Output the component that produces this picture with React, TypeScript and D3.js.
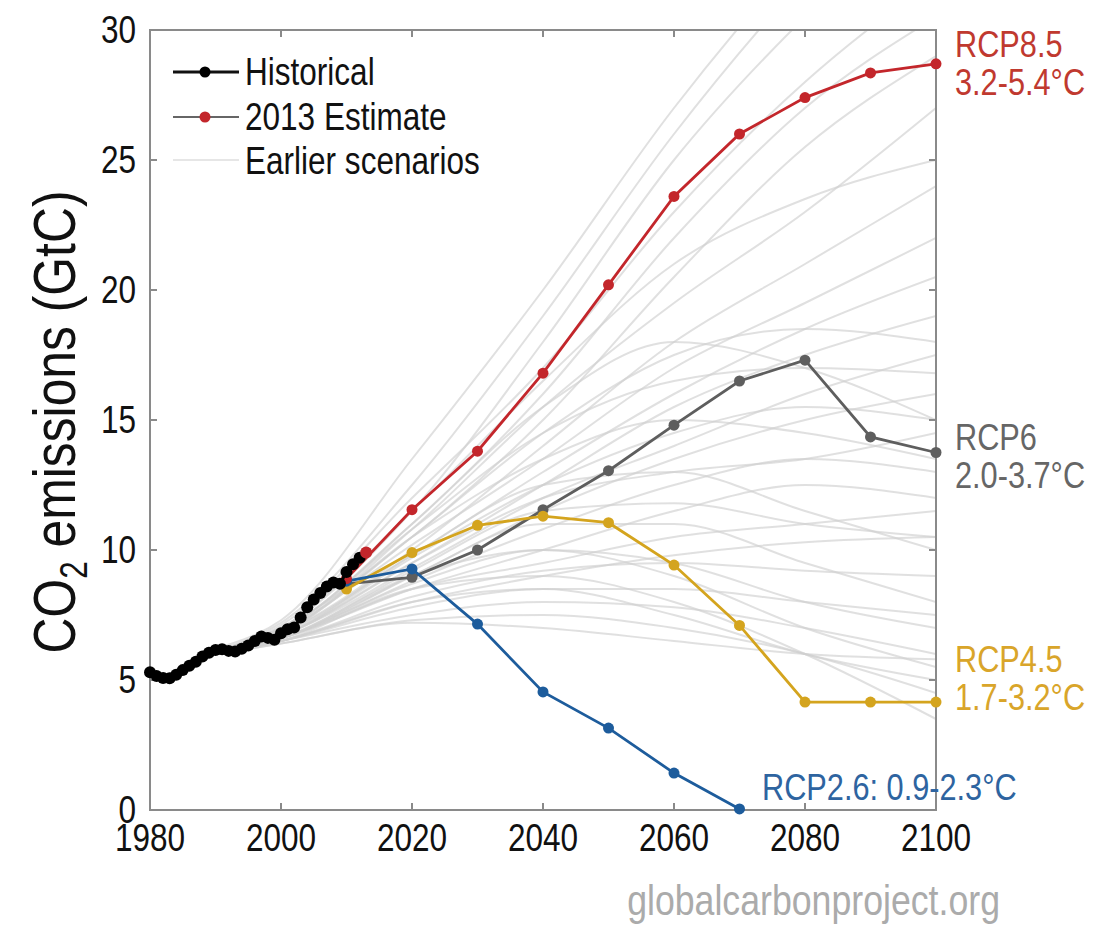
import React, { useEffect, useRef } from "react";
import * as d3 from "d3";

const histYears = [1980,1981,1982,1983,1984,1985,1986,1987,1988,1989,1990,1991,1992,1993,1994,1995,1996,1997,1998,1999,2000,2001,2002,2003,2004,2005,2006,2007,2008,2009,2010,2011,2012];
const histValues = [5.3,5.15,5.08,5.07,5.2,5.38,5.55,5.7,5.9,6.05,6.15,6.18,6.12,6.1,6.2,6.33,6.5,6.67,6.62,6.55,6.8,6.95,7.02,7.4,7.8,8.1,8.35,8.6,8.75,8.7,9.15,9.45,9.7];

const estYear = [2013];
const estValue = [9.9];

const rcpYears = [2010,2020,2030,2040,2050,2060,2070,2080,2090,2100];
const rcp85 = [8.9,11.55,13.8,16.8,20.2,23.6,26.0,27.4,28.35,28.7];
const rcp6 = [8.7,8.95,10.0,11.55,13.05,14.8,16.5,17.3,14.35,13.75];
const rcp45 = [8.5,9.9,10.95,11.3,11.05,9.42,7.1,4.15,4.15,4.15];
const rcp26Years = [2010,2020,2030,2040,2050,2060,2070];
const rcp26 = [8.8,9.27,7.15,4.54,3.15,1.42,0.04];

const scenarioYears = [1990,2000,2020,2040,2060,2080,2100];
const scenarioValues = [
  [6.1,7.2,12.5,19,26,32,37],
  [6.1,7.0,11.5,18,25,30.5,35],
  [6.0,7.1,12,17,23,28,32],
  [6.2,7.3,13.5,20,27,33,38],
  [6.0,6.9,11,16,22,27,30.5],
  [6.1,7.0,10.5,15,20.5,25.5,29],
  [6.0,6.8,10.8,15.5,19.5,23,27],
  [6.0,6.8,10,14,18,21,24],
  [6.0,6.9,10.2,13.5,17,19.5,22],
  [6.1,6.8,9.8,13,16,18.5,20.5],
  [6.0,6.7,9.5,12.5,15.5,17.5,19],
  [6.0,6.8,10.5,14.5,17.5,18.5,18],
  [6.0,6.7,9.3,12,14,16,17.5],
  [6.1,6.9,11,15.5,18,17,15],
  [6.0,6.6,9,11.5,13.5,15,16],
  [6.0,6.7,9.5,12,13,13.5,14.5],
  [6.0,6.6,8.8,10.8,12.5,13.5,13],
  [6.0,6.6,8.5,10,11.5,12.5,12],
  [6.0,6.7,9.8,12.5,13,11.5,10],
  [6.0,6.6,8.5,9.5,10.5,11,11.5],
  [6.0,6.5,8,9,9.8,10.3,10.5],
  [6.0,6.6,9,11,11,9.5,8],
  [6.0,6.5,8.2,9.2,9.5,9.2,9],
  [6.0,6.6,8.7,10,9.5,8,7],
  [6.0,6.5,7.8,8.5,8.5,8,7.5],
  [6.0,6.5,7.5,8,7.8,7,6],
  [6.0,6.5,8,8.5,7.5,6,5],
  [6.0,6.4,7.3,7.5,7,6,4.5],
  [6.0,6.5,8.5,9,8,6,3.5],
  [6.0,6.6,9,10,9,7,5.5],
  [6.0,6.4,7.2,7,6.5,6,5.8],
  [6.1,6.8,10.5,13.5,15,14.5,13.5],
  [6.1,7.0,11.5,16.5,21,23.5,25],
  [6.1,6.9,10.8,14.5,16.5,17,16.8],
  [6.0,6.7,9.7,12.5,14.5,15.5,15],
  [6.0,6.6,9.2,11.5,11.8,11,10.5],
];

const xTicks = [1980,2000,2020,2040,2060,2080,2100];
const yTicks = [0,5,10,15,20,25,30];

const FONT = "'Liberation Sans', Arial, sans-serif";
const SX = 0.83;

export default function App() {
  const ref = useRef<SVGSVGElement>(null);
  useEffect(() => {
    const svg = d3.select(ref.current);
    svg.selectAll("*").remove();
    const L = 150, R = 936, T = 30, B = 810;
    const x = d3.scaleLinear().domain([1980, 2100]).range([L, R]);
    const y = d3.scaleLinear().domain([0, 30]).range([B, T]);

    const txt = (px: number, py: number, s: string, size: number, color: string, anchor = "start") =>
      svg.append("text").attr("transform", `translate(${px},${py}) scale(${SX},1)`)
        .attr("text-anchor", anchor).attr("font-family", FONT).attr("font-size", size).attr("fill", color).text(s);

    svg.append("defs").append("clipPath").attr("id", "plotclip")
      .append("rect").attr("x", L).attr("y", T).attr("width", R - L).attr("height", B - T);

    const line = d3.line<[number, number]>().x(d => x(d[0])).y(d => y(d[1])).curve(d3.curveMonotoneX);
    const straight = d3.line<[number, number]>().x(d => x(d[0])).y(d => y(d[1]));

    const g = svg.append("g").attr("clip-path", "url(#plotclip)");
    scenarioValues.forEach(vals => {
      g.append("path")
        .attr("d", line(scenarioYears.map((yr, i) => [yr, vals[i]] as [number, number])))
        .attr("fill", "none").attr("stroke", "#cfcfcf").attr("stroke-opacity", 0.65).attr("stroke-width", 2);
    });

    // frame
    svg.append("rect").attr("x", L).attr("y", T).attr("width", R - L).attr("height", B - T)
      .attr("fill", "none").attr("stroke", "#8a8a8a").attr("stroke-width", 2);
    xTicks.forEach(t => {
      svg.append("line").attr("x1", x(t)).attr("x2", x(t)).attr("y1", B).attr("y2", B - 7).attr("stroke", "#8a8a8a").attr("stroke-width", 2);
      svg.append("line").attr("x1", x(t)).attr("x2", x(t)).attr("y1", T).attr("y2", T + 7).attr("stroke", "#8a8a8a").attr("stroke-width", 2);
      txt(x(t), 851, String(t), 38, "#111", "middle");
    });
    yTicks.forEach(t => {
      svg.append("line").attr("x1", L).attr("x2", L + 7).attr("y1", y(t)).attr("y2", y(t)).attr("stroke", "#8a8a8a").attr("stroke-width", 2);
      svg.append("line").attr("x1", R).attr("x2", R - 7).attr("y1", y(t)).attr("y2", y(t)).attr("stroke", "#8a8a8a").attr("stroke-width", 2);
      txt(136, y(t) + 13, String(t), 38, "#111", "end");
    });

    const drawSeries = (yrs: number[], vals: number[], color: string, r: number, w: number) => {
      const pts = yrs.map((yr, i) => [yr, vals[i]] as [number, number]);
      if (w > 0) svg.append("path").attr("d", straight(pts)).attr("fill", "none").attr("stroke", color).attr("stroke-width", w);
      svg.append("g").selectAll("circle").data(pts).join("circle")
        .attr("cx", d => x(d[0])).attr("cy", d => y(d[1])).attr("r", r).attr("fill", color);
    };

    drawSeries(rcpYears, rcp6, "#5e5e5e", 5.5, 2.8);
    drawSeries(rcpYears, rcp45, "#d4a41e", 5.5, 2.8);
    drawSeries(rcp26Years, rcp26, "#1d5c9c", 5.5, 2.8);
    drawSeries(rcpYears, rcp85, "#c3262b", 5.5, 2.8);
    drawSeries(histYears, histValues, "#000", 6, 3);
    drawSeries(estYear, estValue, "#c3262b", 6, 0);

    // legend
    const legendItems = [
      { label: "Historical", color: "#111", dot: "#000", y: 72, ty: 85 },
      { label: "2013 Estimate", color: "#666", dot: "#c3262b", y: 117, ty: 130 },
      { label: "Earlier scenarios", color: "#e6e6e6", dot: "", y: 160, ty: 174 },
    ];
    legendItems.forEach(it => {
      svg.append("line").attr("x1", 173).attr("x2", 239).attr("y1", it.y).attr("y2", it.y)
        .attr("stroke", it.color).attr("stroke-width", it.dot === "#000" ? 3 : 2);
      if (it.dot) svg.append("circle").attr("cx", 205).attr("cy", it.y).attr("r", 5.5).attr("fill", it.dot);
      txt(245, it.ty, it.label, 38, "#111");
    });

    // right labels
    const labels = [
      { lines: ["RCP8.5", "3.2-5.4°C"], color: "#c0392f", x: 955, y: 57 },
      { lines: ["RCP6", "2.0-3.7°C"], color: "#666666", x: 955, y: 450 },
      { lines: ["RCP4.5", "1.7-3.2°C"], color: "#d9a52a", x: 955, y: 672 },
      { lines: ["RCP2.6: 0.9-2.3°C"], color: "#2e64a0", x: 762, y: 800 },
    ];
    labels.forEach(lb => {
      lb.lines.forEach((s, i) => txt(lb.x, lb.y + i * 38, s, 37, lb.color));
    });

    // y label
    const yl = svg.append("text").attr("transform", `translate(75,422) rotate(-90) scale(${SX},1)`)
      .attr("text-anchor", "middle").attr("font-family", FONT).attr("font-size", 60).attr("fill", "#111");
    yl.append("tspan").text("CO");
    yl.append("tspan").attr("font-size", 38).attr("dy", 12).text("2");
    yl.append("tspan").attr("dy", -12).text(" emissions (GtC)");

    txt(1000, 915, "globalcarbonproject.org", 43, "#ababab", "end");
  }, []);
  return (
    <svg ref={ref} width={1100} height={928} style={{ display: "block", position: "absolute", left: 0, top: 0, background: "#fff" }} />
  );
}
